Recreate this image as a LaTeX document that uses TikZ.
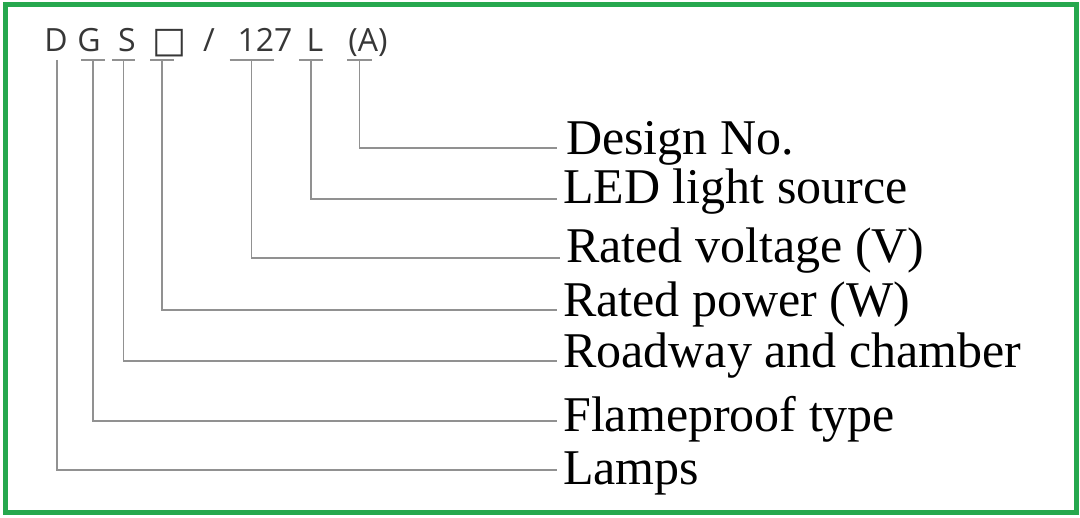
\documentclass[tikz,border=0pt]{standalone}
\usepackage{fontspec}
\setmainfont{Liberation Serif}
\newfontfamily\codefont{Open Sans}
\newfontfamily\symfont{DejaVu Sans}
\usepackage{tikz}
\usetikzlibrary{positioning}
\definecolor{frame}{RGB}{38,168,78}
\definecolor{wire}{RGB}{145,145,145}
\definecolor{code}{RGB}{55,55,55}

\begin{document}
\begin{tikzpicture}[x=1pt, y=-1pt,
  ch/.style={inner sep=0pt, anchor=base, text=code, font=\codefont\fontsize{32}{32}\selectfont},
  lab/.style={anchor=west, inner xsep=6pt, inner ysep=0pt, text height=18pt, text depth=4pt, font=\fontsize{50}{50}\selectfont},
  wire/.style={draw=wire, line width=1.7pt}]
  \useasboundingbox (0,0) rectangle (1080,518);
  \draw[frame, line width=5pt] (5.5,5) rectangle (1076,512.5);
  % model code
  \node[ch] (cD) at (56,52) {D};
  \node[ch] (cG) at (89,52) {G};
  \node[ch] (cS) at (127,52) {S};
  \node[ch, font=\symfont\fontsize{36}{36}\selectfont] (cBox) at (170,53) {□};
  \node[ch] (cSlash) at (209,52) {/};
  \node[ch] (c127) at (265,52) {127};
  \node[ch] (cL) at (315,52) {L};
  \node[ch] (cA) at (368,52) {(A)};
  \coordinate (bD) at (57,60);
  \coordinate (bG) at (93,60);
  \coordinate (bS) at (123.5,60);
  \coordinate (bBox) at (162,60);
  \coordinate (bV) at (251.5,60);
  \coordinate (bL) at (311,60);
  \coordinate (bA) at (359.5,60);
  \draw[wire] ([xshift=-12pt]bG) -- ([xshift=12pt]bG);
  \draw[wire] ([xshift=-11.5pt]bS) -- ([xshift=11.5pt]bS);
  \draw[wire] ([xshift=-12pt]bBox) -- ([xshift=12pt]bBox);
  \draw[wire] ([xshift=-22pt]bV) -- ([xshift=22pt]bV);
  \draw[wire] ([xshift=-12pt]bL) -- ([xshift=12pt]bL);
  \draw[wire] ([xshift=-12.5pt]bA) -- ([xshift=12.5pt]bA);
  % meanings
  \node[lab, text height=18pt, inner xsep=9pt] (lDesign) at (557,148) {Design No.};
  \node[lab, text height=14pt] (lLED) at (557,199) {LED light source};
  \node[lab, text height=14pt] (lVolt) at (560,258) {Rated voltage (V)};
  \node[lab] (lPower) at (557,310) {Rated power (W)};
  \node[lab] (lRoad) at (557,361) {Roadway and chamber};
  \node[lab, text height=26pt] (lFlame) at (557,421) {Flameproof type};
  \node[lab, text height=34pt] (lLamps) at (557,470) {Lamps};
  \draw[wire] (bA) |- (lDesign);
  \draw[wire] (bL) |- (lLED);
  \draw[wire] (bV) |- (lVolt);
  \draw[wire] (bBox) |- (lPower);
  \draw[wire] (bS) |- (lRoad);
  \draw[wire] (bG) |- (lFlame);
  \draw[wire] (bD) |- (lLamps);
\end{tikzpicture}
\end{document}
